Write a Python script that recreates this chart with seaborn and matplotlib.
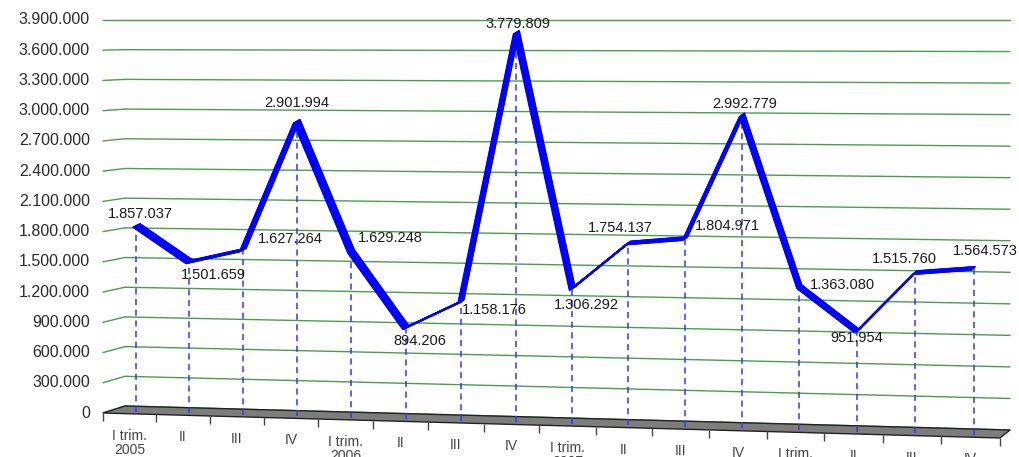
import numpy as np
import pandas as pd
import matplotlib
matplotlib.use("Agg")
import matplotlib.pyplot as plt
import matplotlib.transforms as mtransforms
from matplotlib.patches import Polygon
import seaborn as sns

# ---------------- data ----------------
quarters = ["I trim.\n2005", "II", "III", "IV",
            "I trim.\n2006", "II", "III", "IV",
            "I trim.\n2007", "II", "III", "IV",
            "I trim.\n2008", "II", "III", "IV"]
values = [1857037, 1501659, 1627264, 2901994,
          1629248, 894206, 1158176, 3779809,
          1306292, 1754137, 1804971, 2992779,
          1363080, 951954, 1515760, 1564573]
y_ticks = [0, 300000, 600000, 900000, 1200000, 1500000, 1800000,
           2100000, 2400000, 2700000, 3000000, 3300000, 3600000, 3900000]

# label offsets (pixels: right, down) – styling only
label_offsets = [(4, -11), (24, 13), (47, -11), (0, -18),
                 (39, -13), (14, 13), (33, 8), (2, -8),
                 (14, 17), (-8, -15), (42, -13), (3, -11),
                 (43, -2), (0, 7), (-11, -14), (12, -17)]

# ---------------- layout of the pseudo-3D box (pixels) ----------------
W_PX, H_PX, DPI = 1020, 457, 100
TOP = 20
FRONT_X = (103, 1000)
BACK_X = (125, 1010)
FRONT_BOT = (413, 438)
BACK_BOT = (406, 430)
PERSP_C = 0.054
DATA_DEPTH = 0.3
XLIM = (-0.5, 15.5)
YLIM = (0, 3900000)


def project(u, w, d):
    g = u - PERSP_C * u * (1 - u)
    xl = FRONT_X[0] + d * (BACK_X[0] - FRONT_X[0])
    xr = FRONT_X[1] + d * (BACK_X[1] - FRONT_X[1])
    bl = FRONT_BOT[0] + d * (BACK_BOT[0] - FRONT_BOT[0])
    br = FRONT_BOT[1] + d * (BACK_BOT[1] - FRONT_BOT[1])
    x = xl + g * (xr - xl)
    bottom = bl + g * (br - bl)
    y = TOP + (1 - w) * (bottom - TOP)
    return np.column_stack([x, H_PX - y])


class Persp(mtransforms.Transform):
    input_dims = 2
    output_dims = 2
    is_separable = False
    has_inverse = False

    def __init__(self, mode, fixed):
        super().__init__()
        self.mode = mode
        self.fixed = fixed

    def transform_non_affine(self, values):
        v = np.atleast_2d(np.asarray(values, dtype=float))
        a, b = v[:, 0], v[:, 1]
        f = np.full_like(a, self.fixed)
        if self.mode == "wall":      # (u, w) at depth fixed
            return project(a, b, f)
        if self.mode == "side":      # (d, w) at u fixed
            return project(f, b, a)
        return project(a, f, b)      # floor: (u, d) at w fixed


class RibbonShift(mtransforms.Transform):
    input_dims = 2
    output_dims = 2
    is_separable = False
    has_inverse = False

    def __init__(self, t):
        super().__init__()
        self.t = t

    def transform_non_affine(self, values):
        v = np.array(np.atleast_2d(values), dtype=float)
        a = 7.0 - 3.0 * (v[:, 0] - 125) / 885
        v[:, 0] += self.t * a
        v[:, 1] += self.t * 3.5
        return v


sns.set_theme(style="white")
plt.rcParams["font.family"] = ["Liberation Sans", "DejaVu Sans"]

fig = plt.figure(figsize=(W_PX / DPI, H_PX / DPI), dpi=DPI)
fig.patch.set_facecolor("white")
ax = fig.add_axes([0, 0, 1, 1])
ax.set_xlim(*XLIM)
ax.set_ylim(*YLIM)
ax.set_autoscale_on(False)
ax.axis("off")

lim = ax.transScale + ax.transLimits
T_back = lim + Persp("wall", 1.0)
T_front = lim + Persp("wall", 0.0)
T_data = lim + Persp("wall", DATA_DEPTH)
T_side = mtransforms.blended_transform_factory(mtransforms.IdentityTransform(), lim) + Persp("side", 0.0)
T_floor = mtransforms.blended_transform_factory(lim, mtransforms.IdentityTransform()) + Persp("floor", 0.0)

grid_col = "#4a9e4a"
for v in y_ticks:
    ax.plot(list(XLIM), [v, v], transform=T_back, color=grid_col, lw=1.0, zorder=1)
    ax.plot([0, 1], [v, v], transform=T_side, color=grid_col, lw=1.0, zorder=1)
    ax.annotate(f"{v:,}".replace(",", "."), xy=(0, v), xycoords=T_side,
                xytext=(-13, 0), textcoords="offset pixels",
                ha="right", va="center", fontsize=11.5, color="#2a2a2a")

# floor
floor = Polygon([[XLIM[0], 0], [XLIM[1], 0], [XLIM[1], 1], [XLIM[0], 1]],
                closed=True, transform=T_floor, facecolor="#7d7d7d",
                edgecolor="#222222", lw=1.0, zorder=2)
ax.add_patch(floor)

# category tick marks on the front edge
idx = np.arange(len(values))
bounds = np.arange(len(values) + 1) - 0.5
ax.plot(bounds, np.zeros_like(bounds), transform=T_front, ls="none",
        marker=3, ms=6, mew=1.0, color="#444444", zorder=2)
for i, q in enumerate(quarters):
    ax.annotate(q, xy=(i, 0), xycoords=T_front, xytext=(0, -15),
                textcoords="offset pixels", ha="center", va="top",
                fontsize=10, color="#444444", linespacing=1.05)

# drop lines
ax.vlines(idx, 0, values, transform=T_data, colors="#3333ff",
          linestyles=[(0, (4, 3))], linewidth=1.1, zorder=3)

# ribbon line
df = pd.DataFrame({"q": idx, "v": values})
for t in np.linspace(-0.5, 0.5, 15):
    sns.lineplot(data=df, x="q", y="v", ax=ax, transform=T_data + RibbonShift(t),
                 color="#0000ff", lw=1.1, legend=False, errorbar=None,
                 solid_capstyle="butt", zorder=4)

# data labels
for i, v in enumerate(values):
    dx, dy = label_offsets[i]
    ax.annotate(f"{v:,}".replace(",", "."), xy=(i, v), xycoords=T_data,
                xytext=(dx, -dy), textcoords="offset pixels",
                ha="center", va="center", fontsize=10.5, color="#1a1a1a", zorder=5)

ax.set_xlim(*XLIM)
ax.set_ylim(*YLIM)
ax.axis("off")
fig.savefig("out.png", dpi=DPI, facecolor="white")
